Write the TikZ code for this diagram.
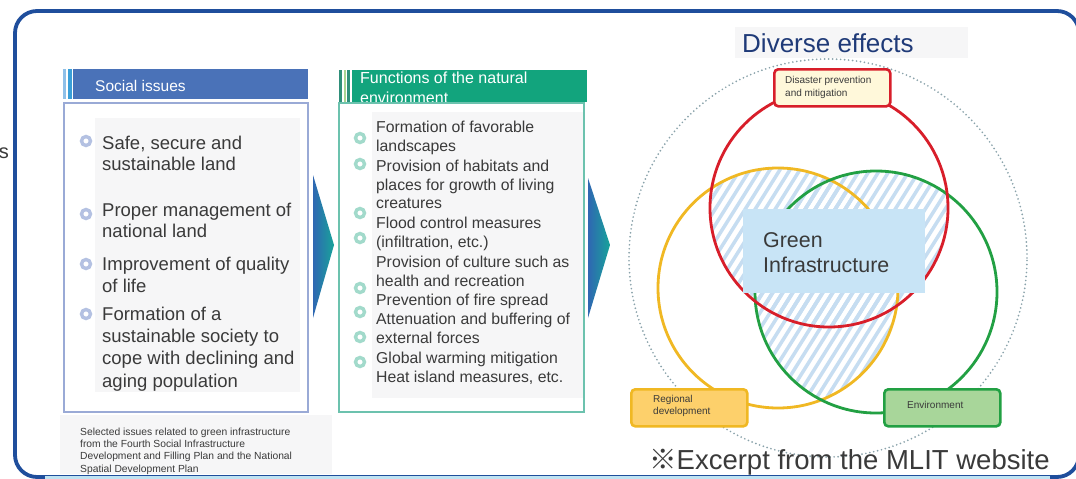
\documentclass[tikz,border=0pt]{standalone}
\usepackage{fontspec}
\setmainfont{Liberation Sans}
\newfontfamily\cjkfont{Noto Sans CJK JP}
\definecolor{framec}{HTML}{1F4E9C}
\definecolor{framelight}{HTML}{BFE3F2}
\definecolor{textgray}{HTML}{3A3A3A}
\definecolor{hdrblue}{HTML}{4A72B8}
\definecolor{bordS}{HTML}{9AAAD6}
\definecolor{hdrgreen}{HTML}{12A47D}
\definecolor{bordF}{HTML}{6CC2AE}
\definecolor{ringS}{HTML}{B4C1E2}
\definecolor{ringF}{HTML}{A2DACB}
\definecolor{paneS}{HTML}{F6F6F7}
\definecolor{arrowblue}{HTML}{2F67B2}
\definecolor{arrowteal}{HTML}{18A39A}
\definecolor{navy}{HTML}{1F3A78}
\definecolor{dotc}{HTML}{8AA3AB}
\definecolor{redc}{HTML}{D81E2A}
\definecolor{yelc}{HTML}{F0B823}
\definecolor{grnc}{HTML}{22A043}
\definecolor{cream}{HTML}{FFF8DA}
\definecolor{yelfill}{HTML}{FDD06B}
\definecolor{grnfill}{HTML}{A8D69A}
\definecolor{gibox}{HTML}{C8E4F6}
\definecolor{hatchc}{HTML}{C6DDF1}
\definecolor{stripeA}{HTML}{8FC0E8}
\definecolor{stripeB}{HTML}{3A9FD8}
\definecolor{stripeC}{HTML}{2F8F7A}
\definecolor{stripeD}{HTML}{A8D494}
\newcommand\myhatch{\foreach \k in {0,...,54}{\draw[hatchc, line width=3.5pt] (460+\k*10,440) -- ++(200,-318);}}
\begin{document}
\begin{tikzpicture}[x=1pt,y=-1pt,
  txt/.style={anchor=base west, inner sep=0pt, text=textgray},
  big/.style={txt, font=\fontsize{18.5}{22}\selectfont},
  mid/.style={txt, font=\fontsize{15.8}{19}\selectfont},
  small/.style={txt, font=\fontsize{10}{12}\selectfont},
  bulS/.style={circle, minimum size=9pt, inner sep=0pt, draw=ringS, line width=3.4pt, fill=white},
  bulF/.style={circle, minimum size=9pt, inner sep=0pt, draw=ringF, line width=3.4pt, fill=white},
  effbox/.style={rounded corners=4pt, line width=2.6pt, anchor=north west, minimum width=116pt, minimum height=37pt, inner sep=0pt}]
\useasboundingbox (0,0) rectangle (1076,479);
\fill[white] (0,0) rectangle (1076,479);
% outer frame
\begin{scope}
\clip (0,0) rectangle (1076,479);
\draw[framec, line width=3.8pt, rounded corners=22pt] (15,11) rectangle (1079,477);
\draw[framelight, line width=4pt] (45,477.5) -- (1050,477.5);
\end{scope}
\node[txt, font=\fontsize{20}{24}\selectfont, text=textgray, anchor=base east] (cut) at (9,158) {s};

% ---------- Social issues ----------
\fill[stripeA] (63,69) rectangle (66,99);
\fill[stripeB] (68,69) rectangle (72,99);
\fill[hdrblue] (73,69) rectangle (308,99);
\node[txt, text=white, font=\fontsize{15.5}{18}\selectfont] (sh) at (95,91) {Social issues};
\draw[bordS, line width=1.6pt] (64,103) rectangle (308,412);
\fill[paneS] (95,118) rectangle (300,392);
\foreach \y [count=\i] in {141,214,264,314} {\node[bulS] (bs\i) at (86,\y) {};}
\foreach \y/\t [count=\i] in {149/{Safe, secure and}, 170/{sustainable land}, 216/{Proper management of}, 237/{national land}, 270/{Improvement of quality}, 292/{of life}, 320/{Formation of a}, 342/{sustainable society to}, 364/{cope with declining and}, 387/{aging population}}
  {\node[big] (st\i) at (102,\y) {\t};}
\fill[paneS] (60,415) rectangle (332,474);
\foreach \y/\t [count=\i] in {435/{Selected issues related to green infrastructure}, 447.3/{from the Fourth Social Infrastructure}, 459.6/{Development and Filling Plan and the National}, 472/{Spatial Development Plan}}
  {\node[txt, font=\fontsize{10.3}{12}\selectfont, text=textgray] (cap\i) at (80,\y) {\t};}

% ---------- arrows ----------
\shade[left color=arrowblue, right color=arrowteal] (313,175) -- (334,245) -- (313,318) -- cycle;
\shade[left color=arrowblue, right color=arrowteal] (588,178) -- (610,245) -- (588,318) -- cycle;

% ---------- Functions ----------
\draw[bordF, line width=1.6pt] (339,103) rectangle (584,412);
\fill[paneS] (372,112) rectangle (583,398);
\fill[stripeC] (339,70) rectangle (342,102);
\fill[stripeD] (344,70) rectangle (346,102);
\fill[stripeC] (347,70) rectangle (350,102);
\fill[hdrgreen] (352,70) rectangle (587,102);
\begin{scope}
\clip (339,70) rectangle (587,101.5);
\node[txt, text=white, font=\fontsize{16}{19}\selectfont] (fh1) at (360,83) {Functions of the natural};
\node[txt, text=white, font=\fontsize{16}{19}\selectfont] (fh2) at (360,103) {environment};
\end{scope}
\foreach \y [count=\i] in {138,164,213,238,288,312,337,362} {\node[bulF] (bf\i) at (360,\y) {};}
\foreach \y/\t [count=\i] in {132/{Formation of favorable}, 151/{landscapes}, 171/{Provision of habitats and}, 190/{places for growth of living}, 208.5/{creatures}, 228/{Flood control measures}, 247/{(infiltration, etc.)}, 267/{Provision of culture such as}, 286/{health and recreation}, 305/{Prevention of fire spread}, 324/{Attenuation and buffering of}, 343/{external forces}, 363/{Global warming mitigation}, 382/{Heat island measures, etc.}}
  {\node[mid] (ft\i) at (376,\y) {\t};}

% ---------- Diverse effects ----------
\fill[paneS] (735,27) rectangle (968,58);
\node[txt, text=navy, font=\fontsize{26}{30}\selectfont] (de) at (742,52) {Diverse effects};
\coordinate (O) at (828,258);
\coordinate (R) at (829,208);
\coordinate (Y) at (778,288);
\coordinate (G) at (876,292);
\draw[dotc, line width=1.9pt, line cap=round, dash pattern=on 0pt off 4pt] (O) circle[radius=199pt];
\begin{scope}\clip (R) circle[radius=119pt]; \clip (Y) circle[radius=120pt]; \myhatch\end{scope}
\begin{scope}\clip (R) circle[radius=119pt]; \clip (G) circle[radius=121pt]; \myhatch\end{scope}
\begin{scope}\clip (Y) circle[radius=120pt]; \clip (G) circle[radius=121pt]; \myhatch\end{scope}
\draw[yelc, line width=2.8pt] (Y) circle[radius=120pt];
\draw[grnc, line width=2.8pt] (G) circle[radius=121pt];
\draw[redc, line width=2.8pt] (R) circle[radius=119pt];

\node[effbox, draw=redc, fill=cream] (dis) at (773,68) {};
\node[small] (dis1) at (785,83) {Disaster prevention};
\node[small] (dis2) at (785,96) {and mitigation};
\node[effbox, draw=yelc, fill=yelfill] (reg) at (630,388) {};
\node[small] (reg1) at (653,402) {Regional};
\node[small] (reg2) at (653,414.5) {development};
\node[effbox, draw=grnc, fill=grnfill] (env) at (883,388) {};
\node[small] (env1) at (907,408.5) {Environment};

\fill[gibox] (743,209) rectangle (925,293);
\node[txt, font=\fontsize{21.4}{25}\selectfont] (gi1) at (763,247) {Green};
\node[txt, font=\fontsize{21.4}{25}\selectfont] (gi2) at (763,272) {Infrastructure};

\node[txt, font=\fontsize{27.5}{32}\selectfont, text=textgray] (src) at (649,469) {{\cjkfont ※}Excerpt from the MLIT website};
\end{tikzpicture}
\end{document}
